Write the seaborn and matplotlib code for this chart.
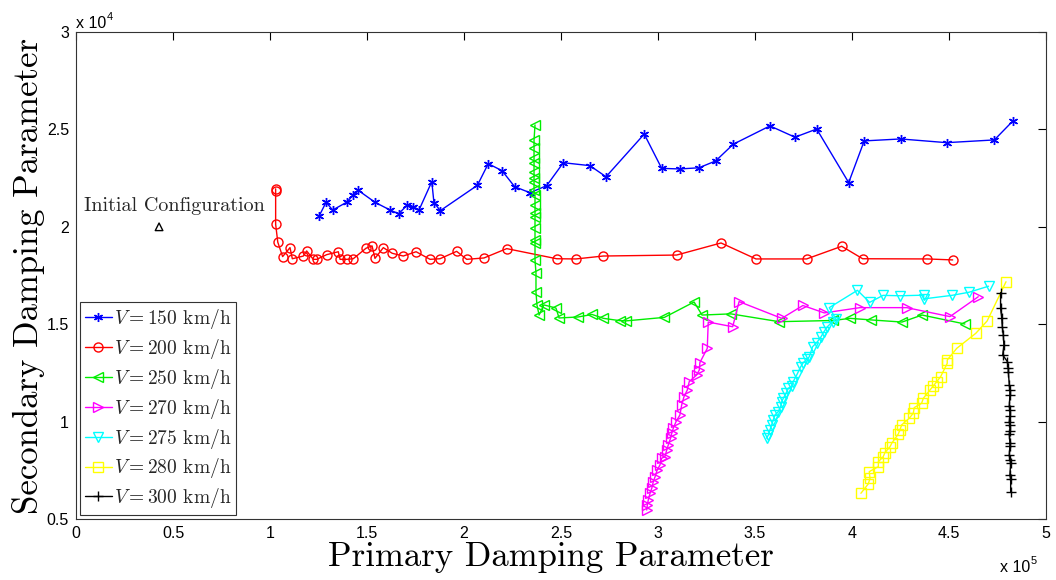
import numpy as np
import pandas as pd
import matplotlib
matplotlib.use("Agg")
import matplotlib.pyplot as plt
import seaborn as sns
from matplotlib.ticker import FuncFormatter, MultipleLocator

# ---------------- data ----------------
v150_x = [125400, 128900, 132300, 139500, 142900, 145500, 154100, 161900, 166300, 170800,
          173900, 176800, 183400, 184500, 187800, 206900, 212500, 219600, 226100, 234000,
          242600, 251200, 264900, 273200, 292900, 301900, 311300, 321100, 329700, 338800,
          357700, 370600, 381800, 398300, 406300, 425100, 448800, 473400, 483100]
v150_y = [20570, 21260, 20860, 21260, 21630, 21870, 21260, 20860, 20670, 21120,
          21030, 20860, 22320, 21240, 20830, 22130, 23240, 22880, 22060, 21750,
          22110, 23290, 23140, 22570, 24760, 23000, 22970, 23030, 23380, 24240,
          25180, 24600, 25020, 22270, 24410, 24510, 24320, 24460, 25450]

v200_x = [102900, 102900, 102900, 104000, 106500, 110300, 111500, 117200, 118900, 122300,
          124100, 129200, 135200, 136100, 139500, 142900, 149500, 152600, 154100, 158400,
          163000, 168700, 175300, 182500, 187600, 196200, 201400, 210300, 222000, 247800,
          257700, 271800, 309600, 332500, 350500, 376600, 394700, 405500, 438800, 451900]
v200_y = [21950, 21850, 20130, 19210, 18470, 18930, 18360, 18500, 18760, 18330,
          18330, 18570, 18720, 18330, 18330, 18360, 18900, 19020, 18380, 18930,
          18640, 18500, 18720, 18330, 18360, 18740, 18330, 18400, 18880, 18360,
          18350, 18500, 18550, 19170, 18350, 18350, 19000, 18360, 18350, 18300]

v250_x = [236600, 236100, 236100, 236100, 236100, 236100, 236100, 236100, 236100, 236600,
          236600, 236600, 236600, 236600, 236600, 236600, 236600, 237100, 237100, 237600,
          238700, 241200, 247400, 249000, 258800, 266000, 271900, 280400, 283500, 303300,
          318600, 322700, 337600, 362400, 390200, 399000, 409800, 425800, 436100, 458200]
v250_y = [25230, 24460, 24050, 23530, 23280, 22810, 22510, 22300, 21890, 21630,
          21120, 20710, 20500, 19940, 19320, 19170, 18300, 17630, 16650, 15990,
          15470, 15990, 15830, 15320, 15370, 15500, 15300, 15180, 15170, 15350,
          16140, 15470, 15530, 15130, 15190, 15300, 15220, 15110, 15470, 15010]

v270_x = [294200, 294500, 295000, 295900, 296800, 297600, 298500, 299600, 301000, 301900,
          303600, 304500, 305300, 306500, 307100, 307900, 309300, 311300, 312200, 313400,
          315100, 316100, 319900, 321300, 321600, 325400, 325900, 338500, 341800, 363800,
          374700, 385700, 404100, 428200, 450500, 465100]
v270_y = [5460, 5720, 5980, 6320, 6580, 6920, 7170, 7520, 7770, 8120,
          8200, 8540, 8800, 9150, 9400, 9660, 10000, 10340, 10850, 11280,
          11620, 12050, 12390, 12650, 13030, 13760, 15110, 14870, 16160, 15300,
          15960, 15580, 15850, 15850, 15390, 16410]

v275_x = [356000, 356900, 357700, 358600, 359400, 360300, 362000, 363200, 363800, 364600,
          366000, 367200, 368900, 369700, 371500, 373600, 374900, 377000, 378000, 379700,
          381800, 383900, 385600, 387300, 390000, 391800, 388300, 402800, 409100, 416000,
          425000, 437000, 437000, 451500, 460300, 470400]
v275_y = [9150, 9310, 9570, 9830, 10080, 10340, 10510, 10770, 11020, 11200,
          11450, 11710, 11830, 12050, 12390, 12820, 13030, 13220, 13330, 13850,
          14050, 14330, 14620, 14870, 15130, 15250, 15850, 16740, 16120, 16480,
          16460, 16490, 16300, 16480, 16640, 16950]

v280_x = [404600, 408400, 409300, 408900, 413600, 413600, 416100, 417000, 419600, 420500,
          423900, 424700, 425600, 429500, 431600, 432100, 435900, 436800, 440200, 441900,
          443700, 445700, 449100, 449100, 454000, 463800, 469700, 479400]
v280_y = [6320, 6800, 7090, 7430, 7690, 7940, 8200, 8410, 8710, 8890,
          9370, 9570, 9830, 10170, 10430, 10720, 10940, 11200, 11620, 11830,
          12050, 12310, 12990, 13160, 13760, 14530, 15170, 17180]

v300_x = [476600, 476600, 477200, 477500, 478000, 478300, 477700, 480100, 480600, 480600,
          481100, 481400, 481400, 481100, 481400, 481400, 481100, 481400, 481400, 481100,
          481400, 481400, 481100, 481400, 481800, 481400, 481800, 481800]
v300_y = [16620, 15820, 15300, 14870, 14450, 13930, 13420, 13080, 12740, 12560,
          11880, 11620, 11370, 10800, 10600, 10290, 10000, 9830, 9540, 9370,
          8920, 8750, 8290, 8030, 7860, 7260, 7040, 6400]

speed_labels = ["150", "200", "250", "270", "275", "280", "300"]

init_x = [42800]
init_y = [20000]
init_text = "Initial Configuration"

x_label = "Primary Damping Parameter"
y_label = "Secondary Damping Parameter"

# ---------------- style ----------------
sns.set_theme(style="white")
plt.rcParams["font.family"] = ["Liberation Sans", "DejaVu Sans"]
plt.rcParams["mathtext.fontset"] = "cm"
plt.rcParams["axes.unicode_minus"] = False

fig = plt.figure(figsize=(10.56, 5.8), dpi=100)
ax = fig.add_axes([0.072, 0.1052, 0.9185, 0.8396])

series = [
    (v150_x, v150_y, "#0000ff", (6, 2, 0)),
    (v200_x, v200_y, "#ff0000", "o"),
    (v250_x, v250_y, "#00ee00", "<"),
    (v270_x, v270_y, "#ff00ff", ">"),
    (v275_x, v275_y, "#00ffff", "v"),
    (v280_x, v280_y, "#ffff00", "s"),
    (v300_x, v300_y, "#000000", "+"),
]

for lab, (xs, ys, col, mk) in zip(speed_labels, series):
    df = pd.DataFrame({"x": xs, "y": ys})
    sns.lineplot(data=df, x="x", y="y", sort=False, estimator=None, ax=ax,
                 color=col, marker=mk, mfc="none", mec=col, mew=1.0, ms=6.5,
                 lw=1.0, label=r"$V=%s$ km/h" % lab)

sns.scatterplot(x=init_x, y=init_y, marker="^", s=30, color="black",
                facecolor="none", edgecolor="black", linewidth=1.0, ax=ax, legend=False)
ax.text(97400, 20810, init_text, ha="right", va="baseline",
        fontfamily="cmr10", fontsize=14.5)

ax.set_xlim(0, 500000)
ax.set_ylim(5000, 30000)
ax.xaxis.set_major_locator(MultipleLocator(50000))
ax.yaxis.set_major_locator(MultipleLocator(5000))
ax.xaxis.set_major_formatter(FuncFormatter(lambda v, p: f"{v/1e5:g}"))
ax.yaxis.set_major_formatter(FuncFormatter(lambda v, p: f"{v/1e4:g}"))
ax.tick_params(direction="in", top=True, right=True, length=6, width=0.8,
               labelsize=11.5, colors="black", pad=5)
for sp in ax.spines.values():
    sp.set_color("#333333")
    sp.set_linewidth(0.8)

ax.set_xlabel(x_label, fontfamily="cmr10", fontsize=25, color="black")
ax.set_ylabel(y_label, fontfamily="cmr10", fontsize=25, color="black")
ax.xaxis.set_label_coords(0.49, -0.046)
ax.yaxis.set_label_coords(-0.032, 0.5)

# exponent texts
t1 = ax.text(0.0, 1.008, "x 10", transform=ax.transAxes, ha="left", va="baseline",
             fontsize=11.5, color="black")
ax.annotate("4", xy=(1.0, 0.6), xycoords=t1, ha="left", va="bottom", fontsize=8, color="black")
t2 = ax.text(0.9526, -0.109, "x 10", transform=ax.transAxes, ha="left", va="baseline",
             fontsize=11.5, color="black")
ax.annotate("5", xy=(1.0, 0.6), xycoords=t2, ha="left", va="bottom", fontsize=8, color="black")

h, l = ax.get_legend_handles_labels()
leg = ax.legend(h, l, loc="lower left", prop={"family": "cmr10", "size": 14},
                frameon=True, fancybox=False, framealpha=1, edgecolor="#333333",
                borderaxespad=0.2, borderpad=0.25, labelspacing=0.3,
                handlelength=1.4, handletextpad=0.1)
leg.get_frame().set_linewidth(0.8)

fig.savefig("out.png", dpi=100)
